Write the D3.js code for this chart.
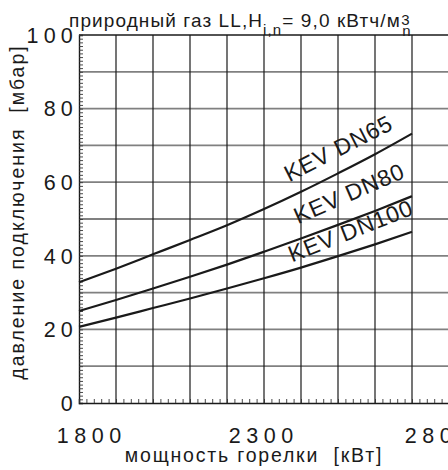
<!DOCTYPE html>
<html><head><meta charset="utf-8">
<script src="https://cdn.jsdelivr.net/npm/d3@7"></script>
<style>
body{margin:0;background:#fff;}
svg{display:block;font-family:"Liberation Sans",Arial,sans-serif;}
</style></head><body>
<svg id="c" width="448" height="470"></svg>
<script>
const power = [1800,1900,2000,2100,2200,2300,2400,2500,2600,2700];
const dn65  = [32.8,36.5,40.4,44.3,48.3,52.7,57.4,62.4,67.6,73.2];
const dn80  = [25.0,28.0,31.1,34.3,37.6,41.1,44.7,48.4,52.2,56.2];
const dn100 = [20.7,23.2,25.8,28.4,31.1,33.9,36.8,39.9,43.1,46.5];
const seriesNames = ["KEV DN65","KEV DN80","KEV DN100"];
const labelPower = [2368,2392,2376];
const labelValue = [60.0,48.6,38.2];
const labelAngle = [-27,-23.5,-21.5];
const xTicks = [1800,2300,2800];
const yTicks = [0,20,40,60,80,100];

const svg = d3.select("#c");
const x = d3.scaleLinear().domain([1800,2800]).range([79,449]);
const y = d3.scaleLinear().domain([0,100]).range([403,35]);
const ink = "#1a1a1a";

// horizontal grid
svg.append("g").selectAll("line").data(d3.range(10,100,10)).join("line")
  .attr("x1",x(1800)).attr("x2",x(2800)).attr("y1",d=>y(d)).attr("y2",d=>y(d))
  .attr("stroke","#808080").attr("stroke-width",1.8);
// vertical grid
svg.append("g").selectAll("line").data(d3.range(1900,2801,100)).join("line")
  .attr("x1",d=>x(d)).attr("x2",d=>x(d)).attr("y1",y(0)).attr("y2",y(100))
  .attr("stroke",ink).attr("stroke-width",1.2);
// top border
svg.append("line").attr("x1",x(1800)).attr("x2",x(2800)).attr("y1",y(100)).attr("y2",y(100))
  .attr("stroke",ink).attr("stroke-width",1.4);

// left axis with minor ticks inside
const yAxis = d3.axisRight(y).tickValues(d3.range(0,101,1)).tickSize(4).tickFormat("");
const gy = svg.append("g").attr("transform",`translate(${x(1800)},0)`).call(yAxis);
gy.select(".domain").attr("stroke",ink).attr("stroke-width",1.4);
gy.selectAll(".tick line").attr("stroke","#333").attr("stroke-width",0.9);

// bottom axis with minor ticks inside
const xAxis = d3.axisTop(x).tickValues(d3.range(1800,2801,20)).tickSize(4).tickFormat("");
const gx = svg.append("g").attr("transform",`translate(0,${y(0)})`).call(xAxis);
gx.select(".domain").attr("stroke",ink).attr("stroke-width",1.4);
gx.selectAll(".tick line").attr("stroke","#333").attr("stroke-width",0.9);

// y tick labels
svg.append("g").selectAll("text").data(yTicks).join("text")
  .attr("x",78).attr("y",d=>y(d)).attr("dy","0.36em")
  .attr("text-anchor","end").attr("font-size",21.5).attr("letter-spacing",5.2)
  .attr("fill",ink).text(d=>d);
// x tick labels
const xLabelShift = [10,-3,-12];
svg.append("g").selectAll("text").data(xTicks).join("text")
  .attr("x",(d,i)=>x(d)+xLabelShift[i]+2.7).attr("y",443)
  .attr("text-anchor","middle").attr("font-size",21.5).attr("letter-spacing",5.5)
  .attr("fill",ink).text(d=>d);

// curves
const line = d3.line().x((d,i)=>x(power[i])).y(d=>y(d)).curve(d3.curveMonotoneX);
[dn65,dn80,dn100].forEach(s=>{
  svg.append("path").datum(s).attr("d",line).attr("fill","none")
    .attr("stroke",ink).attr("stroke-width",2.2);
});
// curve labels
seriesNames.forEach((n,i)=>{
  svg.append("text").attr("transform",`translate(${x(labelPower[i])},${y(labelValue[i])}) rotate(${labelAngle[i]})`)
    .attr("font-size",23).attr("letter-spacing",0.9).attr("fill",ink).text(n);
});

// axis titles
svg.append("text").attr("x",254).attr("y",462).attr("text-anchor","middle")
  .attr("font-size",19.5).attr("letter-spacing",1.8).attr("fill",ink).attr("xml:space","preserve").text("мощность горелки  [кВт]");
svg.append("text").attr("transform","translate(24,212) rotate(-90)").attr("text-anchor","middle")
  .attr("font-size",19.5).attr("letter-spacing",2).attr("fill",ink).attr("xml:space","preserve").text("давление подключения  [мбар]");

// title
const t = svg.append("text").attr("x",69).attr("y",27).attr("font-size",19).attr("letter-spacing",1.1).attr("fill",ink);
t.append("tspan").text("природный газ LL,H");
t.append("tspan").attr("font-size",15).attr("dy",8).text("i,n");
t.append("tspan").attr("dy",-8).text("= 9,0 кВтч/м");
const tb = t.node().getBBox();
svg.append("text").attr("x",tb.x+tb.width+0.5).attr("y",25).attr("font-size",15).attr("fill",ink).text("3");
svg.append("text").attr("x",tb.x+tb.width+1.5).attr("y",36).attr("font-size",15).attr("fill",ink).text("n");
</script>
</body></html>
